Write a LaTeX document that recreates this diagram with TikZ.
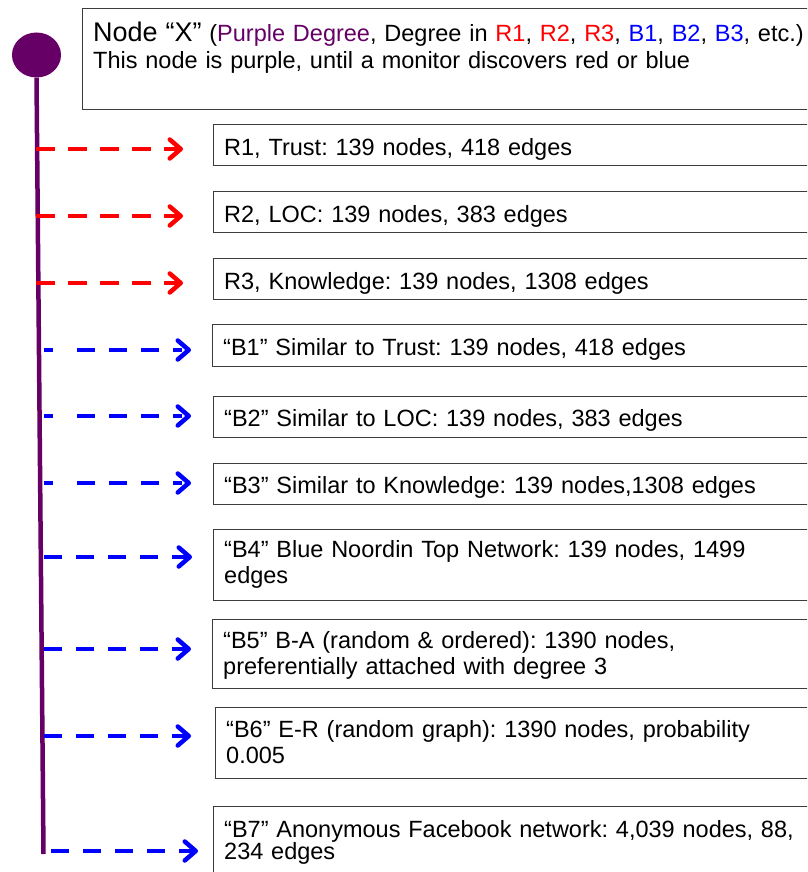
\documentclass[tikz,border=0pt]{standalone}
\usepackage{fontspec}
\setmainfont{Liberation Sans}
\usetikzlibrary{arrows.meta,shapes.geometric}
\definecolor{xpurple}{RGB}{102,0,102}
\definecolor{xred}{RGB}{255,0,0}
\definecolor{xblue}{RGB}{0,0,255}
\definecolor{boxgray}{RGB}{60,60,60}
\newcommand\bodyfont{\frenchspacing\fontsize{23.5pt}{26pt}\selectfont}
\begin{document}
\frenchspacing
\begin{tikzpicture}[x=1pt,y=-1pt,
  box/.style={draw=boxgray, line width=1.4pt, anchor=north west, inner sep=0pt, minimum width=700pt},
  lbl/.style={anchor=base west, inner sep=0pt, font=\bodyfont, text width=760pt, align=left},
  tipx/.style={-{Straight Barb[length=11pt,width=19pt,round]}, line width=4.5pt},
  redarr/.style={tipx, draw=xred, dash pattern=on 19pt off 13pt},
  bluearr/.style={tipx, draw=xblue, dash pattern=on 18pt off 14pt},
  bluefirst/.style={tipx, draw=xblue, dash pattern=on 9pt off 24pt on 18pt off 14pt on 18pt off 14pt on 18pt off 14pt},
]
\useasboundingbox (0,0) rectangle (807,872);
\clip (0,0) rectangle (807,872);

% top box
\node[box, minimum width=760pt, minimum height=101pt] (top) at (82,8) {};
\node[lbl] (title) at (93,42) {{\fontsize{27pt}{30pt}\selectfont Node “X”} (\textcolor{xpurple}{Purple Degree}, Degree in \textcolor{xred}{R1}, \textcolor{xred}{R2}, \textcolor{xred}{R3}, \textcolor{xblue}{B1}, \textcolor{xblue}{B2}, \textcolor{xblue}{B3}, etc.)};
\node[lbl] (note) at (93,69) {This node is purple, until a monitor discovers red or blue};

% purple node and stem
\node[ellipse, fill=xpurple, minimum width=49pt, minimum height=45pt, inner sep=0pt] (dot) at (36.5,55) {};
\coordinate (stemend) at (43.5,854);
\draw[xpurple, line width=4.5pt] (dot.south) -- (stemend);

% boxes
\node[box, minimum height=41pt] (r1) at (213,124) {};
\node[box, minimum height=41pt] (r2) at (213,191) {};
\node[box, minimum height=41pt] (r3) at (213,258) {};
\node[box, minimum height=42pt] (b1) at (212,324) {};
\node[box, minimum height=41pt] (b2) at (213,396) {};
\node[box, minimum height=41pt] (b3) at (213,463) {};
\node[box, minimum height=71pt] (b4) at (213,529) {};
\node[box, minimum height=69pt] (b5) at (212,619) {};
\node[box, minimum height=71pt] (b6) at (215,707) {};
\node[box, minimum height=75pt] (b7) at (213,806) {};

% labels
\node[lbl] (tr1) at (224,155) {R1, Trust: 139 nodes, 418 edges};
\node[lbl] (tr2) at (224,222) {R2, LOC: 139 nodes, 383 edges};
\node[lbl] (tr3) at (224,289) {R3, Knowledge: 139 nodes, 1308 edges};
\node[lbl] (tb1) at (223,355) {“B1” Similar to Trust: 139 nodes, 418 edges};
\node[lbl] (tb2) at (224,426) {“B2” Similar to LOC: 139 nodes, 383 edges};
\node[lbl] (tb3) at (224,493) {“B3” Similar to Knowledge: 139 nodes,1308 edges};
\node[lbl] (tb4) at (224,557) {“B4” Blue Noordin Top Network: 139 nodes, 1499\\edges};
\node[lbl] (tb5) at (223,648) {“B5” B-A (random \& ordered): 1390 nodes,\\preferentially attached with degree 3};
\node[lbl] (tb6) at (226,737) {“B6” E-R (random graph): 1390 nodes, probability\\0.005};
\node[lbl, font=\frenchspacing\fontsize{23.5pt}{22pt}\selectfont] (tb7) at (224,837) {“B7” Anonymous Facebook network: 4,039 nodes, 88,\\234 edges};

% arrow start points on the stem
\coordinate (sr1) at (36,149);
\coordinate (sr2) at (36,216);
\coordinate (sr3) at (36,283);
\coordinate (sb1) at (44,350);
\coordinate (sb2) at (44,416);
\coordinate (sb3) at (44,483);
\coordinate (sb4) at (44,557);
\coordinate (sb5) at (44,649);
\coordinate (sb6) at (44,736);
\coordinate (sb7) at (51,851);

\draw[redarr, shorten >=30pt] (sr1) -- (sr1 -| r1.west);
\draw[redarr, shorten >=30pt] (sr2) -- (sr2 -| r2.west);
\draw[redarr, shorten >=30pt] (sr3) -- (sr3 -| r3.west);
\draw[bluefirst, shorten >=21pt] (sb1) -- (sb1 -| b1.west);
\draw[bluefirst, shorten >=22pt] (sb2) -- (sb2 -| b2.west);
\draw[bluefirst, shorten >=22pt] (sb3) -- (sb3 -| b3.west);
\draw[bluearr, shorten >=21pt] (sb4) -- (sb4 -| b4.west);
\draw[bluearr, shorten >=21pt] (sb5) -- (sb5 -| b5.west);
\draw[bluearr, shorten >=24pt] (sb6) -- (sb6 -| b6.west);
\draw[bluearr, shorten >=15pt] (sb7) -- (sb7 -| b7.west);
\end{tikzpicture}
\end{document}
